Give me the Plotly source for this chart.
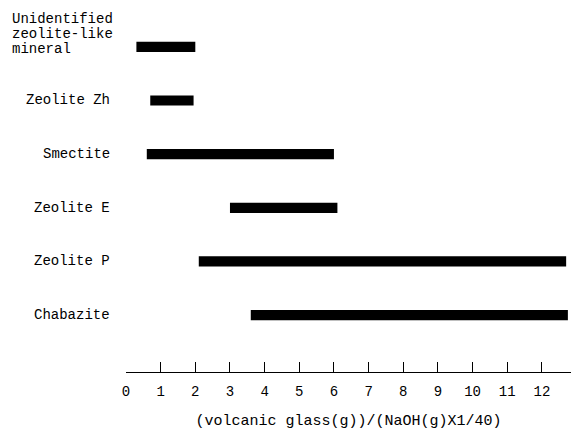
import plotly.graph_objects as go

# Data
categories = ["Unidentified zeolite-like mineral", "Zeolite Zh", "Smectite",
              "Zeolite E", "Zeolite P", "Chabazite"]
category_lines = [["Unidentified", "zeolite-like", "mineral"], ["Zeolite Zh"], ["Smectite"],
                  ["Zeolite E"], ["Zeolite P"], ["Chabazite"]]
range_start = [0.3, 0.7, 0.6, 3.0, 2.1, 3.6]
range_end = [2.0, 1.95, 6.0, 6.1, 12.7, 12.75]
tick_values = list(range(0, 13))
tick_labels = [str(v) for v in tick_values]
x_title = "(volcanic glass(g))/(NaOH(g)X1/40)"

FONT = "Liberation Mono, DejaVu Sans Mono, monospace"

fig = go.Figure()
fig.add_trace(go.Bar(
    y=categories,
    x=[e - s for s, e in zip(range_start, range_end)],
    base=range_start,
    orientation="h",
    width=0.19,
    marker=dict(color="black", line=dict(width=0)),
    hoverinfo="skip",
))

annotations = []
for cat, lines in zip(categories, category_lines):
    if len(lines) > 1:
        n = len(lines)
        for j, line in enumerate(lines):
            annotations.append(dict(
                x=0, xref="paper", xshift=-116, xanchor="left",
                y=cat, yref="y", yanchor="middle",
                yshift=(n - 1 - j) * 15 - 2,
                text=line, showarrow=False, align="left",
                font=dict(family=FONT, size=14, color="black"),
            ))
    else:
        annotations.append(dict(
            x=0, xref="paper", xshift=-14, xanchor="right",
            y=cat, yref="y", yanchor="middle",
            text=lines[0], showarrow=False, align="right",
            font=dict(family=FONT, size=14, color="black"),
        ))

fig.update_layout(
    width=571, height=434,
    margin=dict(l=126, r=0, t=20, b=62),
    paper_bgcolor="white", plot_bgcolor="white",
    showlegend=False,
    annotations=annotations,
    font=dict(family=FONT, size=14, color="black"),
    xaxis=dict(
        range=[0, 12.84],
        tickmode="array", tickvals=tick_values, ticktext=tick_labels,
        ticks="inside", ticklen=10, tickwidth=1, tickcolor="black",
        showline=True, linecolor="black", linewidth=1,
        showgrid=False, zeroline=False,
        tickfont=dict(family=FONT, size=14, color="black"),
        ticklabelstandoff=6,
        title=dict(text=x_title, font=dict(family=FONT, size=15, color="black"), standoff=15),
    ),
    yaxis=dict(
        type="category",
        categoryorder="array", categoryarray=categories,
        range=[6.06, -0.5],
        showticklabels=False, showgrid=False, zeroline=False, showline=False,
        ticks="",
    ),
)

fig.write_html(
    "out.html",
    config={"displayModeBar": False},
    post_script="document.body.style.margin='0';document.body.style.overflow='hidden';",
)
